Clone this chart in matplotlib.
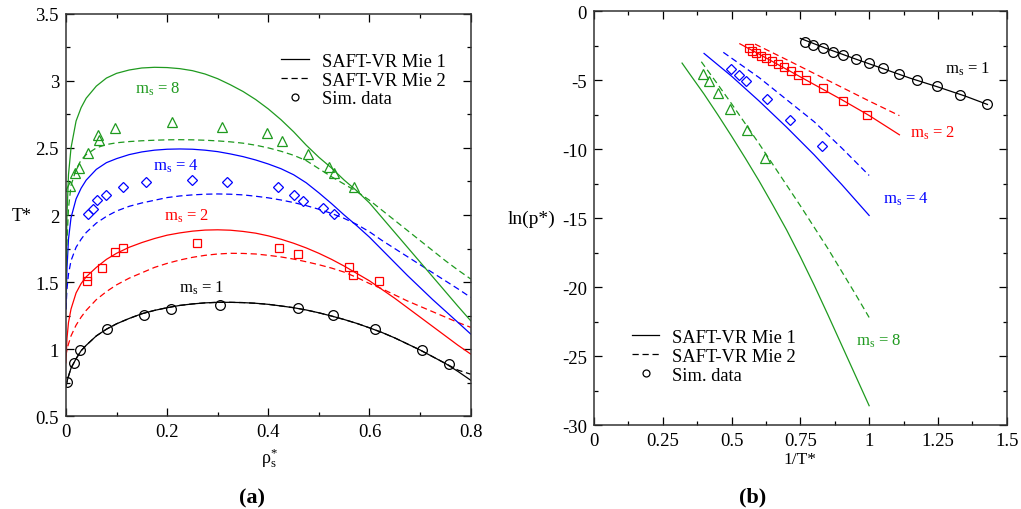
import numpy as np
import matplotlib
matplotlib.use('Agg')
import matplotlib.pyplot as plt
from matplotlib.lines import Line2D
from matplotlib.ticker import MultipleLocator

plt.rcParams['font.family'] = ['Liberation Serif', 'DejaVu Serif']
plt.rcParams['mathtext.fontset'] = 'custom'
plt.rcParams['mathtext.rm'] = 'Liberation Serif'
plt.rcParams['mathtext.default'] = 'regular'

green = '#1f9a1f'

# ---- panel (a): coexistence curves, T* vs rho_s* ----
# simulation data
sim1_rho = [0.003, 0.016, 0.028, 0.082, 0.154, 0.208, 0.305, 0.459, 0.528, 0.610, 0.703, 0.758]
sim1_T = [0.755, 0.90, 0.995, 1.149, 1.256, 1.303, 1.328, 1.310, 1.256, 1.149, 0.997, 0.893]
sim2_rho = [0.042, 0.042, 0.072, 0.096, 0.113, 0.260, 0.421, 0.458, 0.559, 0.568, 0.619]
sim2_T = [1.548, 1.511, 1.606, 1.722, 1.757, 1.794, 1.752, 1.710, 1.611, 1.556, 1.511]
sim4_rho = [0.043, 0.054, 0.061, 0.080, 0.113, 0.158, 0.250, 0.319, 0.420, 0.451, 0.469, 0.509, 0.530]
sim4_T = [2.008, 2.045, 2.112, 2.149, 2.207, 2.249, 2.261, 2.249, 2.207, 2.152, 2.105, 2.053, 2.008]
sim8_rho = [0.008, 0.018, 0.026, 0.044, 0.063, 0.065, 0.096, 0.210, 0.309, 0.397, 0.428, 0.479, 0.519, 0.530, 0.569]
sim8_T = [2.214, 2.313, 2.35, 2.462, 2.596, 2.559, 2.648, 2.69, 2.656, 2.611, 2.549, 2.455, 2.36, 2.31, 2.211]

# theory curves
rho_a = [0, 0.002, 0.005, 0.01, 0.02, 0.03, 0.04, 0.06, 0.08, 0.1, 0.125, 0.15, 0.175,
         0.2, 0.225, 0.25, 0.275, 0.3, 0.325, 0.35, 0.375, 0.4, 0.425, 0.45, 0.475,
         0.5, 0.525, 0.55, 0.575, 0.6, 0.625, 0.65, 0.675, 0.7, 0.725, 0.75, 0.775, 0.8]
T1_mie1 = [0.72, 0.76, 0.80, 0.86, 0.93, 0.99, 1.03, 1.10, 1.15, 1.19, 1.23, 1.265, 1.29,
           1.31, 1.327, 1.338, 1.346, 1.35, 1.35, 1.348, 1.343, 1.335, 1.323, 1.31, 1.293,
           1.272, 1.248, 1.222, 1.193, 1.16, 1.125, 1.085, 1.04, 0.995, 0.945, 0.895, 0.835, 0.77]
T1_mie2 = [0.72, 0.76, 0.80, 0.86, 0.93, 0.99, 1.03, 1.10, 1.15, 1.19, 1.23, 1.265, 1.29,
           1.31, 1.327, 1.338, 1.346, 1.35, 1.35, 1.348, 1.343, 1.335, 1.323, 1.31, 1.293,
           1.272, 1.248, 1.222, 1.193, 1.16, 1.125, 1.085, 1.04, 0.995, 0.945, 0.895, 0.845, 0.815]
T2_mie1 = [0.9, 1.08, 1.2, 1.3, 1.42, 1.49, 1.54, 1.61, 1.67, 1.715, 1.76, 1.795, 1.825,
           1.85, 1.867, 1.88, 1.888, 1.89, 1.887, 1.878, 1.865, 1.845, 1.82, 1.79, 1.755,
           1.715, 1.67, 1.62, 1.565, 1.51, 1.445, 1.38, 1.31, 1.24, 1.17, 1.10, 1.03, 0.965]
T2_mie2 = [0.95, 1.0, 1.04, 1.1, 1.18, 1.24, 1.29, 1.37, 1.43, 1.48, 1.53, 1.57, 1.61,
           1.64, 1.665, 1.685, 1.70, 1.71, 1.715, 1.714, 1.71, 1.70, 1.688, 1.672, 1.652,
           1.63, 1.605, 1.575, 1.535, 1.49, 1.45, 1.405, 1.36, 1.32, 1.28, 1.24, 1.20, 1.164]
T4_mie1 = [1.3, 1.6, 1.82, 1.98, 2.12, 2.2, 2.26, 2.34, 2.39, 2.42, 2.45, 2.47, 2.483,
           2.49, 2.492, 2.49, 2.483, 2.472, 2.455, 2.435, 2.41, 2.38, 2.345, 2.30, 2.24,
           2.165, 2.085, 2.0, 1.92, 1.835, 1.74, 1.645, 1.55, 1.46, 1.37, 1.285, 1.20, 1.114]
T4_mie2 = [1.3, 1.45, 1.56, 1.66, 1.76, 1.82, 1.87, 1.94, 1.99, 2.03, 2.065, 2.09, 2.11,
           2.13, 2.142, 2.15, 2.155, 2.157, 2.155, 2.15, 2.14, 2.128, 2.112, 2.093, 2.07,
           2.043, 2.012, 1.975, 1.93, 1.875, 1.81, 1.75, 1.69, 1.63, 1.57, 1.51, 1.45, 1.387]
T8_mie1 = [1.5, 2.0, 2.3, 2.5, 2.7, 2.8, 2.87, 2.96, 3.02, 3.055, 3.08, 3.095, 3.1,
           3.098, 3.09, 3.075, 3.05, 3.015, 2.97, 2.92, 2.86, 2.79, 2.71, 2.62, 2.52,
           2.43, 2.35, 2.26, 2.18, 2.09, 1.98, 1.87, 1.76, 1.65, 1.54, 1.43, 1.32, 1.213]
T8_mie2 = [1.4, 1.8, 2.05, 2.22, 2.34, 2.41, 2.45, 2.5, 2.525, 2.538, 2.547, 2.553, 2.557,
           2.56, 2.561, 2.56, 2.557, 2.552, 2.545, 2.535, 2.52, 2.50, 2.475, 2.445, 2.405,
           2.345, 2.285, 2.23, 2.175, 2.11, 2.035, 1.96, 1.885, 1.81, 1.735, 1.66, 1.59, 1.524]

# ---- panel (b): ln(p*) vs 1/T* ----
b_sim1_x = [0.767, 0.797, 0.831, 0.867, 0.906, 0.951, 0.999, 1.051, 1.108, 1.175, 1.247, 1.330, 1.427]
b_sim1_y = [-2.20, -2.44, -2.68, -2.93, -3.17, -3.46, -3.77, -4.13, -4.54, -4.96, -5.43, -6.04, -6.74]
b_sim2_x = [0.565, 0.576, 0.589, 0.606, 0.625, 0.646, 0.668, 0.691, 0.716, 0.743, 0.770, 0.834, 0.906, 0.994]
b_sim2_y = [-2.68, -2.85, -3.04, -3.21, -3.41, -3.63, -3.82, -4.06, -4.30, -4.62, -4.95, -5.58, -6.48, -7.49]
b_sim4_x = [0.498, 0.527, 0.553, 0.628, 0.712, 0.830]
b_sim4_y = [-4.18, -4.62, -5.07, -6.36, -7.86, -9.74]
b_sim8_x = [0.397, 0.418, 0.452, 0.494, 0.557, 0.622]
b_sim8_y = [-4.54, -5.07, -5.94, -7.08, -8.60, -10.65]

b1_x = [0.75, 0.85, 0.95, 1.05, 1.15, 1.25, 1.35, 1.43]
b1_y = [-1.96, -2.73, -3.45, -4.15, -4.85, -5.48, -6.15, -6.75]
b2_mie1_x = [0.53, 0.6, 0.7, 0.8, 0.9, 1.0, 1.11]
b2_mie1_y = [-2.35, -3.1, -4.2, -5.3, -6.4, -7.55, -8.95]
b2_mie2_x = [0.585, 0.7, 0.8, 0.9, 1.0, 1.11]
b2_mie2_y = [-2.37, -3.5, -4.5, -5.5, -6.5, -7.56]
b4_mie1_x = [0.4, 0.5, 0.6, 0.7, 0.8, 0.9, 1.0]
b4_mie1_y = [-3.05, -4.7, -6.5, -8.4, -10.4, -12.55, -14.8]
b4_mie2_x = [0.47, 0.6, 0.7, 0.8, 0.9, 1.0]
b4_mie2_y = [-2.97, -4.8, -6.4, -8.0, -9.9, -11.9]
b8_mie1_x = [0.32, 0.35, 0.4, 0.45, 0.5, 0.55, 0.6, 0.65, 0.7, 0.75, 0.8, 0.85, 0.9, 0.95, 1.0]
b8_mie1_y = [-3.75, -4.6, -6.0, -7.5, -9.05, -10.65, -12.3, -14.05, -15.85, -17.8, -19.85,
             -22.0, -24.2, -26.4, -28.6]
b8_mie2_x = [0.39, 0.45, 0.5, 0.55, 0.6, 0.65, 0.7, 0.75, 0.8, 0.85, 0.9, 0.95, 1.0]
b8_mie2_y = [-3.65, -5.3, -6.7, -8.15, -9.6, -11.1, -12.6, -14.1, -15.65, -17.2, -18.85, -20.5, -22.2]

fig = plt.figure(figsize=(10.21, 5.10), dpi=100)
ax1 = fig.add_axes([0.0646, 0.1814, 0.3964, 0.790])
ax2 = fig.add_axes([0.5818, 0.1647, 0.4042, 0.811])

lw = 0.9
dash = (0, (5, 3))
tick_fs = 13.5
lab_fs = 12

def style(ax):
    ax.tick_params(which='both', direction='in', top=True, right=True, labelsize=tick_fs, width=0.9)
    ax.tick_params(which='major', length=5.5, pad=5)
    ax.tick_params(which='minor', length=3)
    for s in ax.spines.values():
        s.set_linewidth(1.1)
        s.set_color('#333333')

# panel (a)
ax1.plot(rho_a, T1_mie2, color='black', lw=lw, ls=dash)
ax1.plot(rho_a, T1_mie1, color='black', lw=lw)
ax1.plot(rho_a, T2_mie1, color='red', lw=lw)
ax1.plot(rho_a, T2_mie2, color='red', lw=lw, ls=dash)
ax1.plot(rho_a, T4_mie1, color='blue', lw=lw)
ax1.plot(rho_a, T4_mie2, color='blue', lw=lw, ls=dash)
ax1.plot(rho_a, T8_mie1, color=green, lw=lw)
ax1.plot(rho_a, T8_mie2, color=green, lw=lw, ls=dash)
ax1.plot(sim1_rho, sim1_T, 'o', mfc='none', mec='black', ms=7, mew=0.9)
ax1.plot(sim2_rho, sim2_T, 's', mfc='none', mec='red', ms=6, mew=0.9)
ax1.plot(sim4_rho, sim4_T, 'D', mfc='none', mec='blue', ms=5, mew=0.9)
ax1.plot(sim8_rho, sim8_T, '^', mfc='none', mec=green, ms=6.5, mew=0.9)

ax1.text(0.182, 2.914, 'm$_\\mathregular{s}$ = 8', color=green, fontsize=lab_fs, ha='center', va='baseline')
ax1.text(0.218, 2.335, 'm$_\\mathregular{s}$ = 4', color='blue', fontsize=lab_fs, ha='center', va='baseline')
ax1.text(0.239, 1.963, 'm$_\\mathregular{s}$ = 2', color='red', fontsize=lab_fs, ha='center', va='baseline')
ax1.text(0.269, 1.429, 'm$_\\mathregular{s}$ = 1', color='black', fontsize=lab_fs, ha='center', va='baseline')

ax1.set_xlim(0, 0.8)
ax1.set_ylim(0.5, 3.5)
ax1.set_xticks([0, 0.2, 0.4, 0.6, 0.8])
ax1.set_xticklabels(['0', '0.2', '0.4', '0.6', '0.8'])
ax1.xaxis.set_minor_locator(MultipleLocator(0.1))
ax1.set_yticks([0.5, 1, 1.5, 2, 2.5, 3, 3.5])
ax1.set_yticklabels(['0.5', '1', '1.5', '2', '2.5', '3', '3.5'])
ax1.yaxis.set_minor_locator(MultipleLocator(0.25))
style(ax1)
ax1.set_xlabel('ρ$_\\mathregular{s}^\\mathregular{*}$', fontsize=13, va='center')
ax1.xaxis.set_label_coords((269 - 66) / 404.7, (417.5 - 458) / 403)
ax1.set_ylabel('T*', fontsize=13, rotation=0, va='center', ha='center')
ax1.yaxis.set_label_coords((21.5 - 66) / 404.7, 0.5)

handles = [Line2D([], [], color='black', lw=lw),
           Line2D([], [], color='black', lw=lw, ls=dash),
           Line2D([], [], ls='none', marker='o', mfc='none', mec='black', ms=5, mew=0.9)]
names = ['SAFT-VR Mie 1', 'SAFT-VR Mie 2', 'Sim. data']
ax1.legend(handles, names, loc='upper right', bbox_to_anchor=(0.97, 0.935), frameon=False,
           fontsize=13.3, handlelength=1.5, handletextpad=0.7, labelspacing=0.1, borderaxespad=0.3)

# panel (b)
ax2.plot(b1_x, b1_y, color='black', lw=lw)
ax2.plot(b2_mie1_x, b2_mie1_y, color='red', lw=lw)
ax2.plot(b2_mie2_x, b2_mie2_y, color='red', lw=lw, ls=dash)
ax2.plot(b4_mie1_x, b4_mie1_y, color='blue', lw=lw)
ax2.plot(b4_mie2_x, b4_mie2_y, color='blue', lw=lw, ls=dash)
ax2.plot(b8_mie1_x, b8_mie1_y, color=green, lw=lw)
ax2.plot(b8_mie2_x, b8_mie2_y, color=green, lw=lw, ls=dash)
ax2.plot(b_sim1_x, b_sim1_y, 'o', mfc='none', mec='black', ms=7, mew=0.9)
ax2.plot(b_sim2_x, b_sim2_y, 's', mfc='none', mec='red', ms=6, mew=0.9)
ax2.plot(b_sim4_x, b_sim4_y, 'D', mfc='none', mec='blue', ms=5, mew=0.9)
ax2.plot(b_sim8_x, b_sim8_y, '^', mfc='none', mec=green, ms=6.5, mew=0.9)

ax2.text(1.357, -4.47, 'm$_\\mathregular{s}$ = 1', color='black', fontsize=lab_fs, ha='center', va='baseline')
ax2.text(1.229, -9.09, 'm$_\\mathregular{s}$ = 2', color='red', fontsize=lab_fs, ha='center', va='baseline')
ax2.text(1.134, -13.9, 'm$_\\mathregular{s}$ = 4', color='blue', fontsize=lab_fs, ha='center', va='baseline')
ax2.text(1.034, -24.2, 'm$_\\mathregular{s}$ = 8', color=green, fontsize=lab_fs, ha='center', va='baseline')

ax2.set_xlim(0, 1.5)
ax2.set_ylim(-30, 0)
ax2.set_xticks([0, 0.25, 0.5, 0.75, 1, 1.25, 1.5])
ax2.set_xticklabels(['0', '0.25', '0.5', '0.75', '1', '1.25', '1.5'])
ax2.xaxis.set_minor_locator(MultipleLocator(0.125))
ax2.set_yticks([-30, -25, -20, -15, -10, -5, 0])
ax2.set_yticklabels(['-30', '-25', '-20', '-15', '-10', '-5', '0'])
ax2.yaxis.set_minor_locator(MultipleLocator(2.5))
style(ax2)
ax2.set_xlabel('1/T*', fontsize=12.5, va='center')
ax2.xaxis.set_label_coords(0.5, (426 - 460) / 413.7)
ax2.set_ylabel('ln(p*)', fontsize=14, rotation=0, va='center', ha='center')
ax2.yaxis.set_label_coords((531 - 594) / 412.7, 0.5)

ax2.legend(handles, names, loc='lower left', bbox_to_anchor=(0.06, 0.069), frameon=False,
           fontsize=13.3, handlelength=1.5, handletextpad=0.7, labelspacing=0.1, borderaxespad=0.3)

fig.text(252 / 1021, 1 - 498 / 510, '(a)', fontsize=16, fontweight='bold', ha='center', va='center')
fig.text(753 / 1021, 1 - 497 / 510, '(b)', fontsize=16, fontweight='bold', ha='center', va='center')

fig.savefig('out.png', dpi=100)
